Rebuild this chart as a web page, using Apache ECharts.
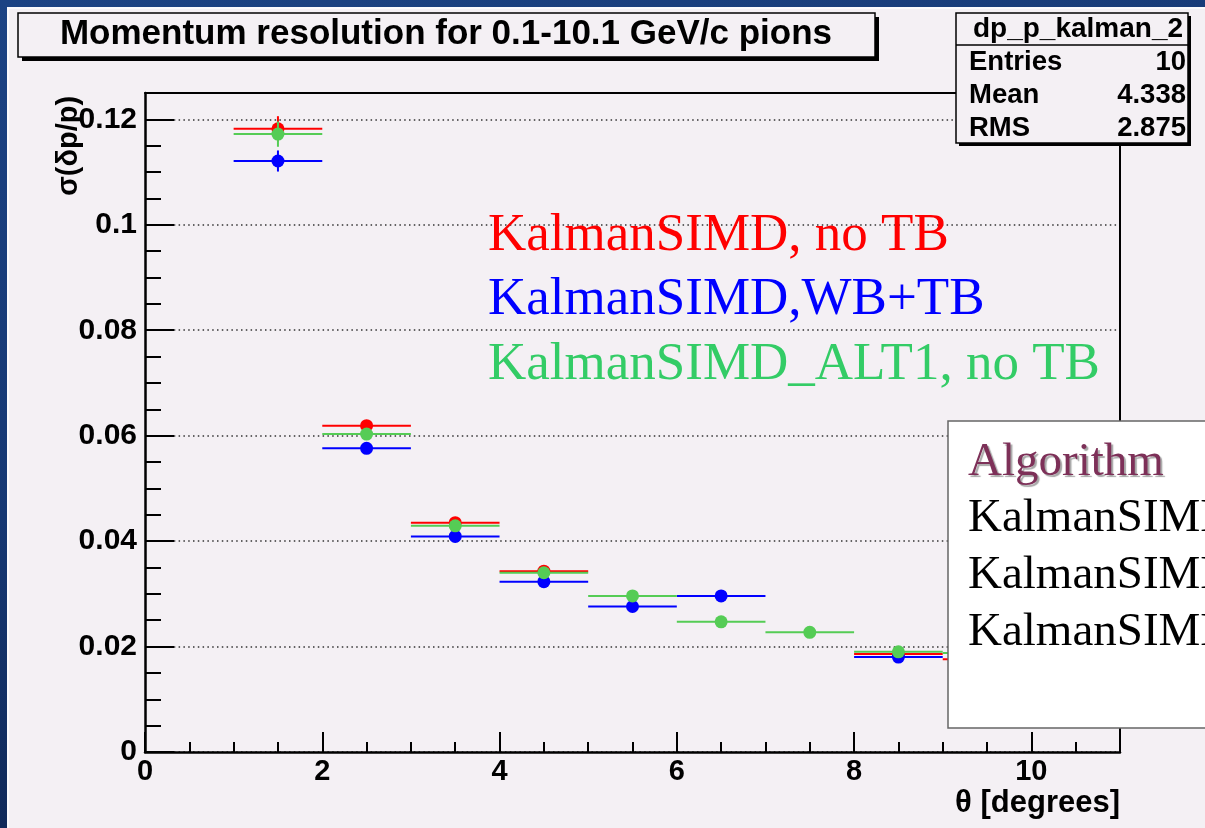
<!DOCTYPE html>
<html>
<head>
<meta charset="utf-8">
<script src="https://cdn.jsdelivr.net/npm/echarts@6/dist/echarts.min.js"></script>
<style>
  html, body { margin: 0; padding: 0; width: 1205px; height: 828px; overflow: hidden; }
  #slide { position: absolute; left: 0; top: 0; width: 1205px; height: 828px;
           background: linear-gradient(165deg, #1c4384 0%, #163873 45%, #0a1b40 100%); }
  #pad { position: absolute; left: 7px; top: 7px; width: 1196px; height: 819px;
         background: #f4f0f4; border-left: 2px solid #fbfafd; border-top: 2px solid #fbfafd; }
  #chart { position: absolute; left: 0; top: 0; width: 1205px; height: 828px; }
</style>
</head>
<body>
<div id="slide"><div id="pad"></div></div>
<div id="chart"></div>
<script>
// theta bins (degrees)
const thetaLo = [1, 2, 3, 4, 5, 6, 7, 8, 9];
const thetaHi = [2, 3, 4, 5, 6, 7, 8, 9, 10];

// sigma(dp/p) per bin and its error, one pair of arrays per algorithm
const sigmaNoTB  = [0.1182, 0.0619, 0.0435, 0.0343, null, null, null, 0.0186, 0.0176];
const errNoTB    = [0.0024, 0.0008, 0.0007, 0.0006, null, null, null, 0.0005, 0.0005];
const sigmaWBTB  = [0.1121, 0.0576, 0.0409, 0.0323, 0.0276, 0.0296, null, 0.0180, null];
const errWBTB    = [0.0020, 0.0007, 0.0006, 0.0005, 0.0005, 0.0007, null, 0.0005, null];
const sigmaALT1  = [0.1172, 0.0603, 0.0429, 0.0340, 0.0296, 0.0247, 0.0227, 0.0190, 0.0188];
const errALT1    = [0.0024, 0.0008, 0.0007, 0.0006, 0.0006, 0.0006, 0.0006, 0.0006, 0.0006];

const seriesNames = ['KalmanSIMD, no TB', 'KalmanSIMD,WB+TB', 'KalmanSIMD_ALT1, no TB'];
const seriesColors = ['#ff0000', '#0000ff', '#55cc55'];
const labelColors = ['#ff0000', '#0000ff', '#33cc66'];

// axis tick labels and titles
const xTickLabels = ['0', '2', '4', '6', '8', '10'];
const yTickLabels = ['0', '0.02', '0.04', '0.06', '0.08', '0.1', '0.12'];
const xTitle = 'θ [degrees]';
const yTitle = 'σ(δp/p)';

// statistics box
const statsTitle = 'dp_p_kalman_2';
const statsNames = ['Entries', 'Mean', 'RMS'];
const statsValues = ['10', '4.338', '2.875'];

const titleText = 'Momentum resolution for 0.1-10.1 GeV/c pions';

const X_MIN = 0, X_MAX = 11, Y_MIN = 0, Y_MAX = 0.125;
const SANS = '"Liberation Sans", Arial, Helvetica, sans-serif';
const SERIF = '"Liberation Serif", "Times New Roman", serif';
const BG = '#f4f0f4';

function binData(vals, errs) {
  const out = [];
  vals.forEach((v, i) => {
    if (v !== null) out.push([thetaLo[i], thetaHi[i], v, errs[i]]);
  });
  return out;
}

// one histogram bin: horizontal bin-width bar, vertical error bar, filled circle marker
function histRenderer(color) {
  return function (params, api) {
    const lo = api.value(0), hi = api.value(1), y = api.value(2), e = api.value(3);
    const mid = (lo + hi) / 2;
    const a = api.coord([lo, y]);
    const b = api.coord([hi, y]);
    const c = api.coord([mid, y]);
    const t = api.coord([mid, y + e]);
    const d = api.coord([mid, y - e]);
    return {
      type: 'group',
      children: [
        { type: 'line', shape: { x1: a[0], y1: a[1], x2: b[0], y2: b[1] },
          style: { stroke: color, lineWidth: 2 } },
        { type: 'line', shape: { x1: c[0], y1: t[1], x2: c[0], y2: d[1] },
          style: { stroke: color, lineWidth: 2 } },
        { type: 'circle', shape: { cx: c[0], cy: c[1], r: 6.5 },
          style: { fill: color } }
      ]
    };
  };
}

const dataSets = [binData(sigmaNoTB, errNoTB), binData(sigmaWBTB, errWBTB), binData(sigmaALT1, errALT1)];

function onStep(v, step) {
  const i = Math.round(v / step);
  return Math.abs(v - i * step) < 1e-9 ? i : -1;
}

const axisBlack = { color: '#000', width: 2.5 };

const option = {
  backgroundColor: 'transparent',
  animation: false,
  grid: { left: 145, top: 93, right: 85, bottom: 76, containLabel: false },
  xAxis: [
    { // main theta axis with labels
      type: 'value', min: X_MIN, max: X_MAX, interval: 2, position: 'bottom',
      name: xTitle, nameLocation: 'end', nameGap: 0,
      nameTextStyle: { fontFamily: SANS, fontWeight: 'bold', fontSize: 31, color: '#000',
                       align: 'right', verticalAlign: 'top', padding: [36, 0, 0, 0] },
      axisLine: { show: true, onZero: false, lineStyle: axisBlack },
      axisTick: { show: true, inside: true, length: 20, lineStyle: { color: '#000', width: 2 } },
      axisLabel: { margin: 5, fontFamily: SANS, fontWeight: 'bold', fontSize: 29, color: '#000',
                   formatter: v => { const i = onStep(v, 2); return i >= 0 && xTickLabels[i] !== undefined ? xTickLabels[i] : ''; } },
      splitLine: { show: false }
    },
    { // minor theta ticks
      type: 'value', min: X_MIN, max: X_MAX, interval: 0.5, position: 'bottom',
      axisLine: { show: false },
      axisTick: { show: true, inside: true, length: 10, lineStyle: { color: '#000', width: 2 } },
      axisLabel: { show: false }, splitLine: { show: false }
    },
    { // upper frame edge
      type: 'value', min: X_MIN, max: X_MAX, position: 'top',
      axisLine: { show: true, onZero: false, lineStyle: { color: '#000', width: 2 } },
      axisTick: { show: false }, axisLabel: { show: false }, splitLine: { show: false }
    }
  ],
  yAxis: [
    { // main sigma axis with labels and dotted grid
      type: 'value', min: Y_MIN, max: Y_MAX, interval: 0.02, position: 'left',
      axisLine: { show: true, onZero: false, lineStyle: axisBlack },
      axisTick: { show: true, inside: true, length: 29, lineStyle: { color: '#000', width: 2 } },
      axisLabel: { margin: 8, fontFamily: SANS, fontWeight: 'bold', fontSize: 30, color: '#000',
                   formatter: v => { const i = onStep(v, 0.02); return i >= 0 && yTickLabels[i] !== undefined ? yTickLabels[i] : ''; } },
      splitLine: { show: true, lineStyle: { color: '#333', width: 1.5, type: [1.5, 3.3] } }
    },
    { // minor sigma ticks
      type: 'value', min: Y_MIN, max: Y_MAX, interval: 0.005, position: 'left',
      axisLine: { show: false },
      axisTick: { show: true, inside: true, length: 16, lineStyle: { color: '#000', width: 2 } },
      axisLabel: { show: false }, splitLine: { show: false }
    },
    { // right frame edge
      type: 'value', min: Y_MIN, max: Y_MAX, position: 'right',
      axisLine: { show: true, onZero: false, lineStyle: { color: '#000', width: 2 } },
      axisTick: { show: false }, axisLabel: { show: false }, splitLine: { show: false }
    }
  ],
  series: dataSets.map((data, k) => ({
    type: 'custom',
    name: seriesNames[k],
    xAxisIndex: 0, yAxisIndex: 0,
    renderItem: histRenderer(seriesColors[k]),
    encode: { x: [0, 1], y: 2 },
    data: data,
    z: 2 + k
  })),
  graphic: [
    // y axis title, reading upwards
    { type: 'text', z: 50, x: 69, y: 146, rotation: Math.PI / 2,
      style: { text: yTitle, font: 'bold 29px ' + SANS, fill: '#000', align: 'center', verticalAlign: 'middle' } },

    // title pave
    { type: 'rect', z: 100, shape: { x: 22, y: 17, width: 857, height: 44 }, style: { fill: '#000' } },
    { type: 'rect', z: 101, shape: { x: 18, y: 13, width: 857, height: 44 },
      style: { fill: BG, stroke: '#000', lineWidth: 1.5 } },
    { type: 'text', z: 102, x: 446, y: 34,
      style: { text: titleText, font: 'bold 35px ' + SANS, fill: '#000', align: 'center', verticalAlign: 'middle' } },

    // statistics pave
    { type: 'rect', z: 100, shape: { x: 959, y: 16, width: 232, height: 130 }, style: { fill: '#000' } },
    { type: 'rect', z: 101, shape: { x: 956, y: 13, width: 232, height: 130 },
      style: { fill: BG, stroke: '#000', lineWidth: 1.5 } },
    { type: 'line', z: 102, shape: { x1: 956, y1: 45, x2: 1188, y2: 45 }, style: { stroke: '#000', lineWidth: 1.5 } },
    { type: 'text', z: 102, x: 1078, y: 29,
      style: { text: statsTitle, font: 'bold 28px ' + SANS, fill: '#000', align: 'center', verticalAlign: 'middle' } },
    ...statsNames.map((n, i) => ({ type: 'text', z: 102, x: 969, y: 62 + i * 33,
      style: { text: n, font: 'bold 27.5px ' + SANS, fill: '#000', align: 'left', verticalAlign: 'middle' } })),
    ...statsValues.map((v, i) => ({ type: 'text', z: 102, x: 1186, y: 62 + i * 33,
      style: { text: v, font: 'bold 27.5px ' + SANS, fill: '#000', align: 'right', verticalAlign: 'middle' } })),

    // coloured algorithm labels
    ...seriesNames.map((n, i) => ({ type: 'text', z: 90, x: 488, y: 236 + i * 64.5,
      style: { text: n, font: '53px ' + SERIF, fill: labelColors[i], align: 'left', verticalAlign: 'middle' } })),

    // algorithm table
    { type: 'rect', z: 110, shape: { x: 948, y: 421, width: 300, height: 307 },
      style: { fill: '#ffffff', stroke: '#666', lineWidth: 1.5 } },
    { type: 'text', z: 111, x: 968, y: 463,
      style: { text: 'Algorithm', font: '47px ' + SERIF, fill: '#7d3058', align: 'left', verticalAlign: 'middle',
               textShadowColor: 'rgba(0,0,0,0.35)', textShadowOffsetX: 2, textShadowOffsetY: 2, textShadowBlur: 1 } },
    ...seriesNames.map((n, i) => ({ type: 'text', z: 111, x: 968, y: 519 + i * 57,
      style: { text: n, font: '47px ' + SERIF, fill: '#000', align: 'left', verticalAlign: 'middle' } }))
  ]
};

const chart = echarts.init(document.getElementById('chart'), null, { renderer: 'canvas' });
chart.setOption(option);
</script>
</body>
</html>
